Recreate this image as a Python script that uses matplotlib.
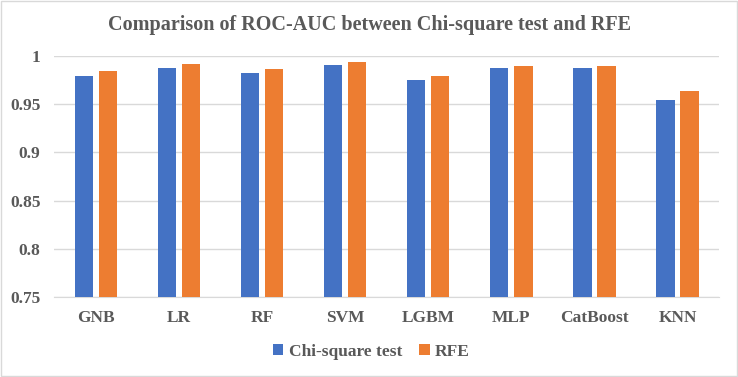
import numpy as np
import matplotlib.pyplot as plt
from matplotlib.patches import Rectangle

models = ["GNB", "LR", "RF", "SVM", "LGBM", "MLP", "CatBoost", "KNN"]
chi_square = [0.979, 0.9875, 0.9823, 0.9908, 0.9748, 0.9872, 0.9879, 0.9545]
rfe = [0.9847, 0.9912, 0.9864, 0.9939, 0.9793, 0.990, 0.9893, 0.9638]
yticks = [0.75, 0.8, 0.85, 0.9, 0.95, 1.0]
ytick_labels = ["0.75", "0.8", "0.85", "0.9", "0.95", "1"]

text_col = "#595959"
grid_col = "#D9D9D9"
font = "Liberation Serif"

fig = plt.figure(figsize=(7.38, 3.77), dpi=100)
ax = fig.add_axes([0.0738, 0.2122, 0.9005, 0.6393])

x = np.arange(len(models))
w = 0.22
gap = 0.07
ax.bar(x - (w + gap) / 2, chi_square, w, color="#4472C4", label="Chi-square test", zorder=3)
ax.bar(x + (w + gap) / 2, rfe, w, color="#ED7D31", label="RFE", zorder=3)

ax.set_xlim(-0.5, len(models) - 0.5)
ax.set_ylim(0.75, 1.0)
ax.set_yticks(yticks)
ax.set_yticklabels(ytick_labels)
ax.set_xticks(x)
ax.set_xticklabels(models)
for lab in ax.get_xticklabels() + ax.get_yticklabels():
    lab.set_fontfamily(font)
    lab.set_fontweight("bold")
    lab.set_fontsize(12.5)
    lab.set_color(text_col)
ax.tick_params(axis="both", length=0)
ax.tick_params(axis="x", pad=9)
ax.tick_params(axis="y", pad=10)
ax.yaxis.grid(True, color=grid_col, linewidth=1, zorder=0)
for s in ["top", "right", "left"]:
    ax.spines[s].set_visible(False)
ax.spines["bottom"].set_color(grid_col)

fig.text(0.5, 1 - 25 / 377, "Comparison of ROC-AUC between Chi-square test and RFE",
         ha="center", va="center", fontfamily=font, fontweight="bold",
         fontsize=14.5, color=text_col)

leg = fig.legend(loc="center", bbox_to_anchor=(371.5 / 738, 1 - 351.7 / 377), ncol=2,
                 frameon=False, prop={"family": font, "weight": "bold", "size": 12.5},
                 handlelength=0.6, handleheight=0.6, handletextpad=0.3, columnspacing=1.0)
for t in leg.get_texts():
    t.set_color(text_col)

fig.patches.append(Rectangle((0.002, 0.003), 0.996, 0.994, transform=fig.transFigure,
                             fill=False, edgecolor=grid_col, linewidth=1))

fig.savefig("out.png", dpi=100)
